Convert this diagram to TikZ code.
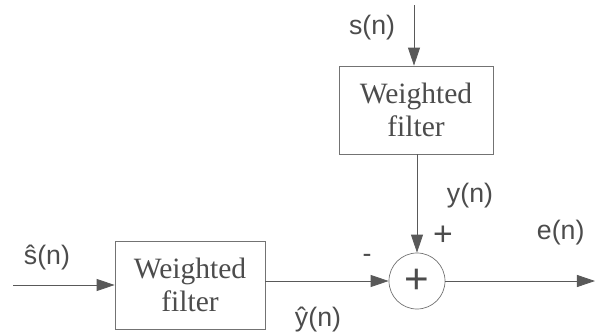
\documentclass[tikz,border=0pt]{standalone}
\usepackage{fontspec}
\setmainfont{Liberation Serif}
\setsansfont{Liberation Sans}
\usepackage{tikz}
\usetikzlibrary{positioning, arrows.meta}

\begin{document}
\begin{tikzpicture}[
    x=0.025cm, y=-0.025cm,
    wbox/.style = {rectangle, draw=black!55, line width=0.5pt,
                   minimum width=3.75cm, minimum height=2.2cm,
                   align=center, font=\fontsize{21}{24}\selectfont, text=black!70},
    sumnode/.style = {circle, draw=black!55, line width=0.5pt,
                      minimum size=1.4cm, inner sep=0pt,
                      font=\sffamily\fontsize{30}{30}\selectfont, text=black!70},
    sig/.style  = {font=\sffamily\fontsize{19}{21}\selectfont, text=black!70},
    arr/.style  = {-{Triangle[length=0.45cm, width=0.3cm]}, line width=0.6pt, black!65}
]
\useasboundingbox (0,0) rectangle (600,336);

% blocks
\node[wbox, minimum width=3.85cm] (wtop)  at (416,110) {Weighted\\filter};
\node[wbox] (wleft) at (190,285) {Weighted\\filter};
\node[sumnode] (sum) at (417,281) {+};

% free ends
\coordinate (sin)  at (414,5);
\coordinate (shin) at (13,285);
\coordinate (eout) at (595,281);

% signals
\draw[arr] (sin) -- (sin |- wtop.north);
\draw[arr] (wtop.south -| sum.north) -- (sum.north);
\draw[arr] (shin) -- (wleft.west);
\draw[arr] (wleft.east |- sum.west) -- (sum.west);
\draw[arr] (sum.east) -- (eout);

% labels
\node[sig, anchor=east] (lsn)  at (400,28)  {s(n)};
\node[sig]              (lshn) at (47,258)  {ŝ(n)};
\node[sig]              (lyn)  at (470,196) {y(n)};
\node[sig]              (lyhn) at (318,320) {ŷ(n)};
\node[sig, anchor=west] (len)  at (532,233) {e(n)};
\node[sig, font=\sffamily\fontsize{24}{24}\selectfont] (lp) at (443,236) {+};
\node[sig]              (lm)   at (367,258) {-};
\end{tikzpicture}
\end{document}
